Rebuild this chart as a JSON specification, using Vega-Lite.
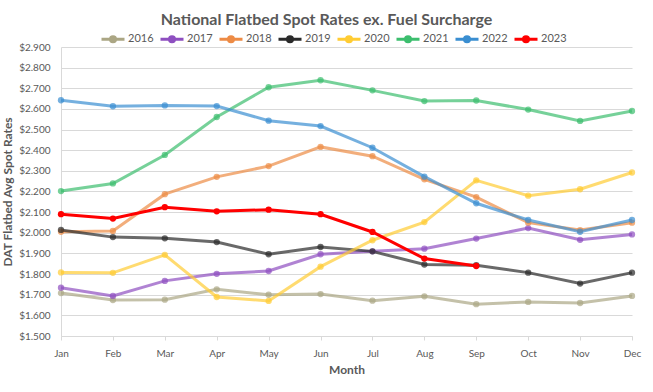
{
  "$schema": "https://vega.github.io/schema/vega-lite/v6.json",
  "width": 571,
  "height": 289,
  "autosize": {"type": "none"},
  "padding": {"left": 61, "top": 47, "right": 21, "bottom": 56},
  "background": "white",
  "title": {
    "text": "National Flatbed Spot Rates ex. Fuel Surcharge",
    "fontSize": 16,
    "font": "Lato",
    "fontWeight": "bold",
    "color": "#595959",
    "anchor": "middle",
    "dx": -20,
    "offset": -2
  },
  "data": {
    "values": [
      {"year": "2016", "month": "Jan", "rate": 1.708}, {"year": "2016", "month": "Feb", "rate": 1.674}, {"year": "2016", "month": "Mar", "rate": 1.676}, {"year": "2016", "month": "Apr", "rate": 1.726}, {"year": "2016", "month": "May", "rate": 1.700}, {"year": "2016", "month": "Jun", "rate": 1.703}, {"year": "2016", "month": "Jul", "rate": 1.671}, {"year": "2016", "month": "Aug", "rate": 1.692}, {"year": "2016", "month": "Sep", "rate": 1.654}, {"year": "2016", "month": "Oct", "rate": 1.665}, {"year": "2016", "month": "Nov", "rate": 1.660}, {"year": "2016", "month": "Dec", "rate": 1.694},
      {"year": "2017", "month": "Jan", "rate": 1.734}, {"year": "2017", "month": "Feb", "rate": 1.694}, {"year": "2017", "month": "Mar", "rate": 1.767}, {"year": "2017", "month": "Apr", "rate": 1.801}, {"year": "2017", "month": "May", "rate": 1.815}, {"year": "2017", "month": "Jun", "rate": 1.896}, {"year": "2017", "month": "Jul", "rate": 1.910}, {"year": "2017", "month": "Aug", "rate": 1.923}, {"year": "2017", "month": "Sep", "rate": 1.972}, {"year": "2017", "month": "Oct", "rate": 2.023}, {"year": "2017", "month": "Nov", "rate": 1.966}, {"year": "2017", "month": "Dec", "rate": 1.992},
      {"year": "2018", "month": "Jan", "rate": 2.005}, {"year": "2018", "month": "Feb", "rate": 2.009}, {"year": "2018", "month": "Mar", "rate": 2.187}, {"year": "2018", "month": "Apr", "rate": 2.271}, {"year": "2018", "month": "May", "rate": 2.323}, {"year": "2018", "month": "Jun", "rate": 2.416}, {"year": "2018", "month": "Jul", "rate": 2.371}, {"year": "2018", "month": "Aug", "rate": 2.259}, {"year": "2018", "month": "Sep", "rate": 2.173}, {"year": "2018", "month": "Oct", "rate": 2.049}, {"year": "2018", "month": "Nov", "rate": 2.013}, {"year": "2018", "month": "Dec", "rate": 2.049},
      {"year": "2019", "month": "Jan", "rate": 2.014}, {"year": "2019", "month": "Feb", "rate": 1.979}, {"year": "2019", "month": "Mar", "rate": 1.973}, {"year": "2019", "month": "Apr", "rate": 1.955}, {"year": "2019", "month": "May", "rate": 1.896}, {"year": "2019", "month": "Jun", "rate": 1.931}, {"year": "2019", "month": "Jul", "rate": 1.910}, {"year": "2019", "month": "Aug", "rate": 1.846}, {"year": "2019", "month": "Sep", "rate": 1.843}, {"year": "2019", "month": "Oct", "rate": 1.807}, {"year": "2019", "month": "Nov", "rate": 1.754}, {"year": "2019", "month": "Dec", "rate": 1.807},
      {"year": "2020", "month": "Jan", "rate": 1.808}, {"year": "2020", "month": "Feb", "rate": 1.806}, {"year": "2020", "month": "Mar", "rate": 1.893}, {"year": "2020", "month": "Apr", "rate": 1.689}, {"year": "2020", "month": "May", "rate": 1.670}, {"year": "2020", "month": "Jun", "rate": 1.836}, {"year": "2020", "month": "Jul", "rate": 1.964}, {"year": "2020", "month": "Aug", "rate": 2.052}, {"year": "2020", "month": "Sep", "rate": 2.254}, {"year": "2020", "month": "Oct", "rate": 2.180}, {"year": "2020", "month": "Nov", "rate": 2.211}, {"year": "2020", "month": "Dec", "rate": 2.292},
      {"year": "2021", "month": "Jan", "rate": 2.202}, {"year": "2021", "month": "Feb", "rate": 2.239}, {"year": "2021", "month": "Mar", "rate": 2.377}, {"year": "2021", "month": "Apr", "rate": 2.561}, {"year": "2021", "month": "May", "rate": 2.705}, {"year": "2021", "month": "Jun", "rate": 2.739}, {"year": "2021", "month": "Jul", "rate": 2.690}, {"year": "2021", "month": "Aug", "rate": 2.638}, {"year": "2021", "month": "Sep", "rate": 2.641}, {"year": "2021", "month": "Oct", "rate": 2.597}, {"year": "2021", "month": "Nov", "rate": 2.542}, {"year": "2021", "month": "Dec", "rate": 2.590},
      {"year": "2022", "month": "Jan", "rate": 2.642}, {"year": "2022", "month": "Feb", "rate": 2.613}, {"year": "2022", "month": "Mar", "rate": 2.617}, {"year": "2022", "month": "Apr", "rate": 2.614}, {"year": "2022", "month": "May", "rate": 2.543}, {"year": "2022", "month": "Jun", "rate": 2.517}, {"year": "2022", "month": "Jul", "rate": 2.412}, {"year": "2022", "month": "Aug", "rate": 2.272}, {"year": "2022", "month": "Sep", "rate": 2.143}, {"year": "2022", "month": "Oct", "rate": 2.062}, {"year": "2022", "month": "Nov", "rate": 2.005}, {"year": "2022", "month": "Dec", "rate": 2.062},
      {"year": "2023", "month": "Jan", "rate": 2.090}, {"year": "2023", "month": "Feb", "rate": 2.069}, {"year": "2023", "month": "Mar", "rate": 2.124}, {"year": "2023", "month": "Apr", "rate": 2.104}, {"year": "2023", "month": "May", "rate": 2.112}, {"year": "2023", "month": "Jun", "rate": 2.090}, {"year": "2023", "month": "Jul", "rate": 2.004}, {"year": "2023", "month": "Aug", "rate": 1.875}, {"year": "2023", "month": "Sep", "rate": 1.839}
    ]
  },
  "mark": {"type": "line", "strokeWidth": 3, "point": {"filled": true, "size": 40}},
  "encoding": {
    "x": {
      "field": "month",
      "type": "ordinal",
      "sort": ["Jan", "Feb", "Mar", "Apr", "May", "Jun", "Jul", "Aug", "Sep", "Oct", "Nov", "Dec"],
      "scale": {"type": "point", "padding": 0},
      "axis": {
        "title": "Month",
        "labelAngle": 0,
        "labelPadding": 8,
        "titlePadding": 6,
        "tickSize": 4,
        "tickColor": "#d9d9d9",
        "domainColor": "#d9d9d9",
        "grid": false
      }
    },
    "y": {
      "field": "rate",
      "type": "quantitative",
      "scale": {"domain": [1.5, 2.9], "nice": false, "zero": false},
      "axis": {
        "title": "DAT Flatbed Avg Spot Rates",
        "values": [1.5, 1.6, 1.7, 1.8, 1.9, 2.0, 2.1, 2.2, 2.3, 2.4, 2.5, 2.6, 2.7, 2.8, 2.9],
        "format": "$.3f",
        "ticks": false,
        "labelPadding": 11,
        "titlePadding": 4,
        "domainColor": "#d9d9d9",
        "gridColor": "#d9d9d9"
      }
    },
    "color": {
      "field": "year",
      "type": "nominal",
      "scale": {
        "domain": ["2016", "2017", "2018", "2019", "2020", "2021", "2022", "2023"],
        "range": ["#aba684", "#8e4fc0", "#ed8b45", "#2a2a2a", "#ffcc33", "#3cbe6e", "#3a8ed1", "#ff0000"]
      },
      "legend": {
        "title": null,
        "orient": "none",
        "direction": "horizontal",
        "columns": 8,
        "legendX": 39,
        "legendY": -21,
        "symbolType": "M-1,0L1,0M-0.22,0A0.22,0.22,0,1,1,0.22,0A0.22,0.22,0,1,1,-0.22,0Z",
        "symbolSize": 529,
        "symbolStrokeWidth": 3,
        "labelOffset": 2,
        "columnPadding": 0,
        "labelFontSize": 11
      }
    },
    "opacity": {
      "condition": {"test": "datum.year === '2023'", "value": 1},
      "value": 0.7
    }
  },
  "config": {
    "view": {"stroke": null},
    "font": "Lato",
    "axis": {
      "labelColor": "#595959",
      "titleColor": "#595959",
      "labelFontSize": 10,
      "titleFontSize": 12,
      "titleFontWeight": "bold",
      "labelFont": "Lato",
      "titleFont": "Lato"
    },
    "legend": {"labelColor": "#595959", "labelFont": "Lato"}
  }
}
